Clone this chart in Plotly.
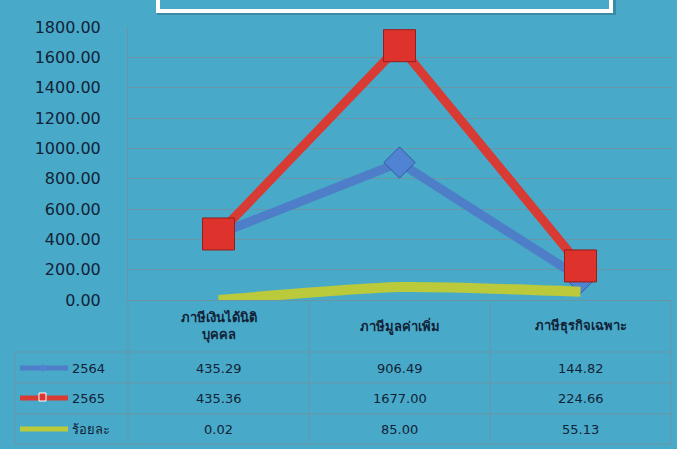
import plotly.graph_objects as go

categories = ["ภาษีเงินได้นิติบุคคล", "ภาษีมูลค่าเพิ่ม", "ภาษีธุรกิจเฉพาะ"]
category_labels = ["ภาษีเงินได้นิติ<br>บุคคล", "ภาษีมูลค่าเพิ่ม", "ภาษีธุรกิจเฉพาะ"]
series_names = ["2564", "2565", "ร้อยละ"]
values_2564 = [435.29, 906.49, 144.82]
values_2565 = [435.36, 1677.00, 224.66]
values_pct = [0.02, 85.00, 55.13]
y_ticks = [0, 200, 400, 600, 800, 1000, 1200, 1400, 1600, 1800]

W, H = 677, 449
L, R, T, B = 128, 671, 27, 300  # plot area in pixels
BG = "rgb(72,170,200)"
GRID = "rgb(104,150,166)"
TXT = "rgb(18,34,56)"
BLUE = "rgb(78,126,200)"
RED = "rgb(216,58,52)"
YEL = "rgb(186,202,58)"
FONT = "Tahoma, DejaVu Sans, Noto Sans, sans-serif"


def px(x):
    return (x - L) / (R - L)


def py(y):
    return (B - y) / (B - T)


xs = list(range(len(categories)))
fig = go.Figure()
fig.add_trace(go.Scatter(x=xs, y=values_2564, name=series_names[0], mode="lines+markers",
                         line=dict(color=BLUE, width=9),
                         marker=dict(symbol="diamond", size=24, color="rgb(80,132,210)",
                                     line=dict(color="rgb(50,90,160)", width=1))))
fig.add_trace(go.Scatter(x=xs, y=values_2565, name=series_names[1], mode="lines+markers",
                         line=dict(color=RED, width=9),
                         marker=dict(symbol="square", size=32, color="rgb(222,50,45)",
                                     line=dict(color="rgb(150,30,28)", width=1))))
fig.add_trace(go.Scatter(x=xs, y=values_pct, name=series_names[2], mode="lines",
                         line=dict(color=YEL, width=10, shape="spline", smoothing=0.6)))

shapes = []
# title box
shapes.append(dict(type="rect", xref="paper", yref="paper", x0=px(160), x1=px(613), y0=py(12), y1=py(-20),
                   line=dict(color="rgba(40,80,100,0.35)", width=6), fillcolor=BG, layer="below"))
shapes.append(dict(type="rect", xref="paper", yref="paper", x0=px(158), x1=px(611), y0=py(11), y1=py(-20),
                   line=dict(color="white", width=4), fillcolor=BG, layer="below"))
# table grid
rows_y = [352, 383, 414, 444]
for y in rows_y:
    shapes.append(dict(type="line", xref="paper", yref="paper", x0=px(15), x1=px(R), y0=py(y), y1=py(y),
                       line=dict(color=GRID, width=1)))
for x in [L, 309, 490, R]:
    shapes.append(dict(type="line", xref="paper", yref="paper", x0=px(x), x1=px(x), y0=py(B), y1=py(444),
                       line=dict(color=GRID, width=1)))
shapes.append(dict(type="line", xref="paper", yref="paper", x0=px(15), x1=px(15), y0=py(352), y1=py(444),
                   line=dict(color=GRID, width=1)))
# legend keys
key_colors = [BLUE, RED, YEL]
row_centers = [368, 398, 429]
for c, yc in zip(key_colors, row_centers):
    shapes.append(dict(type="line", xref="paper", yref="paper", x0=px(20), x1=px(68), y0=py(yc), y1=py(yc),
                       line=dict(color=c, width=5)))
shapes.append(dict(type="path", xref="paper", yref="paper",
                   path=f"M {px(39)} {py(368)} L {px(43)} {py(364)} L {px(47)} {py(368)} L {px(43)} {py(372)} Z",
                   fillcolor="rgb(80,132,210)", line=dict(width=0)))
shapes.append(dict(type="rect", xref="paper", yref="paper", x0=px(39), x1=px(46), y0=py(401), y1=py(393),
                   fillcolor="rgb(222,52,46)", line=dict(color="white", width=1)))

annotations = []
for i, lab in enumerate(category_labels):
    annotations.append(dict(x=i, xref="x", y=py(326), yref="paper", text=f"<b>{lab}</b>", showarrow=False,
                            font=dict(size=13, color=TXT, family=FONT), yanchor="middle", xanchor="center"))
all_vals = [values_2564, values_2565, values_pct]
for name, vals, yc in zip(series_names, all_vals, row_centers):
    annotations.append(dict(x=px(70), xref="paper", y=py(yc), yref="paper", text=name, showarrow=False,
                            xanchor="left", yanchor="middle", font=dict(size=13, color=TXT, family=FONT)))
    for i, v in enumerate(vals):
        annotations.append(dict(x=i, xref="x", y=py(yc), yref="paper", text=f"{v:.2f}", showarrow=False,
                                xanchor="center", yanchor="middle",
                                font=dict(size=13, color=TXT, family=FONT)))

fig.update_layout(
    width=W, height=H, autosize=False,
    margin=dict(l=L, r=W - R, t=T, b=H - B, pad=0, autoexpand=False),
    paper_bgcolor=BG, plot_bgcolor=BG,
    showlegend=False,
    shapes=shapes, annotations=annotations,
    font=dict(family=FONT, color=TXT),
)
fig.update_xaxes(range=[-0.5, 2.5], showticklabels=False, showgrid=False, zeroline=False,
                 showline=True, linecolor=GRID, linewidth=1, fixedrange=True)
fig.update_yaxes(range=[0, 1800], tickvals=y_ticks, tickformat=".2f", showgrid=True, gridcolor=GRID, gridwidth=1,
                 zeroline=False, showline=True, linecolor=GRID, linewidth=1,
                 tickfont=dict(size=16, color=TXT, family=FONT), ticks="", ticklabelstandoff=23)

fig.write_html("out.html", config={"displayModeBar": False},
               post_script="document.body.style.margin='0';document.body.style.overflow='hidden';")
